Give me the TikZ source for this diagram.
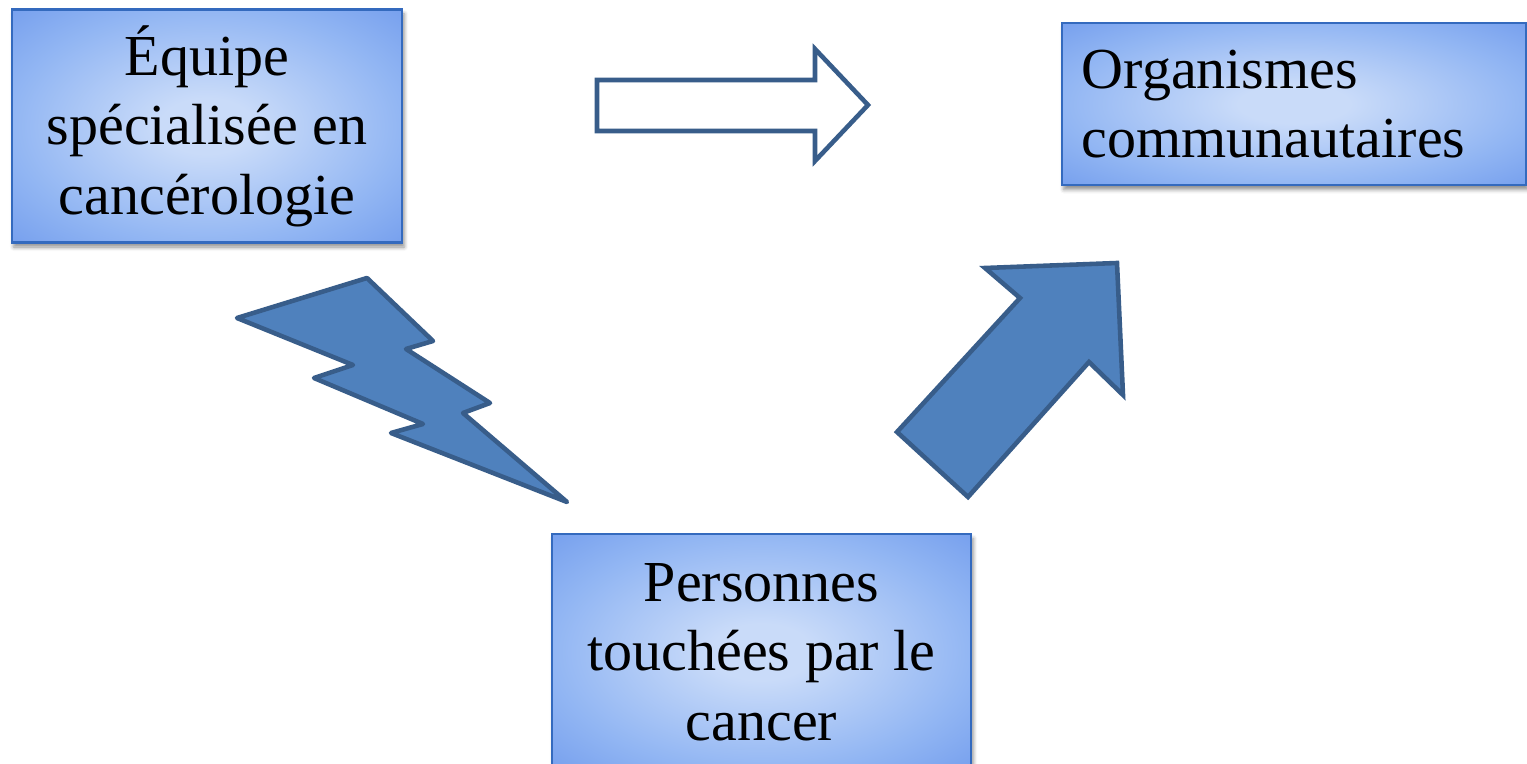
\documentclass[tikz,border=0pt]{standalone}
\usepackage{fontspec}
\setmainfont{Liberation Serif}
\usetikzlibrary{positioning, shadows.blur}
\definecolor{boxblue}{RGB}{52,106,190}
\definecolor{boxin}{RGB}{201,219,249}
\definecolor{boxmid}{RGB}{146,182,243}
\definecolor{boxout}{RGB}{120,161,238}
\definecolor{shapefill}{RGB}{79,129,189}
\definecolor{shapeline}{RGB}{56,93,138}
\pgfdeclareradialshading{boxglow}{\pgfpoint{0bp}{0bp}}{color(0bp)=(boxin); color(6bp)=(boxin);
  color(25bp)=(boxmid); color(35bp)=(boxout); color(50bp)=(boxout)}

\begin{document}
\begin{tikzpicture}[x=0.01cm, y=-0.01cm, font=\fontsize{16.5}{19.8}\selectfont,
          bx/.style={draw=boxblue, line width=0.7pt, shading=boxglow,
                     blur shadow={shadow xshift=0.02cm, shadow yshift=-0.045cm,
                                  shadow blur radius=0.04cm, shadow opacity=45},
                     inner sep=0pt},
          hollow/.style={draw=shapeline, fill=white, line width=1.3pt, line join=miter},
          bolt/.style={draw=shapeline, fill=shapefill, line width=1.3pt, line join=round},
          fat/.style={draw=shapeline, fill=shapefill, line width=1.3pt, line join=miter}]
        \useasboundingbox (0,0) rectangle (1527,764);
        \node[bx, minimum width=3.90cm, minimum height=2.33cm, align=center] (team) at (207,126)
            {Équipe\\spécialisée en\\cancérologie};
        \node[bx, inner xsep=0.2cm, text width=4.24cm, minimum height=1.62cm, align=left] (orgs) at (1294,104)
            {Organismes\\communautaires};
        \node[bx, minimum width=4.19cm, minimum height=2.36cm, align=center] (people) at (761.5,652)
            {Personnes\\touchées par le\\cancer};
        % hollow arrow between the top boxes
        \draw[hollow] (597,80) -- (815,80) -- (815,49) -- (868,105) -- (815,161)
            -- (815,131) -- (597,131) -- cycle;
        % lightning bolt
        \draw[bolt] (237,318) -- (367,278) -- (433,341) -- (406,349) -- (490,403)
            -- (463,413) -- (567,502) -- (391,433) -- (423,424) -- (314,378)
            -- (353,365) -- cycle;
        % block arrow up to the community groups
        \draw[fat] (897,432) -- (968,497) -- (1089,362) -- (1123,395) -- (1117,263)
            -- (985,268) -- (1020,298) -- cycle;
\end{tikzpicture}
\end{document}
